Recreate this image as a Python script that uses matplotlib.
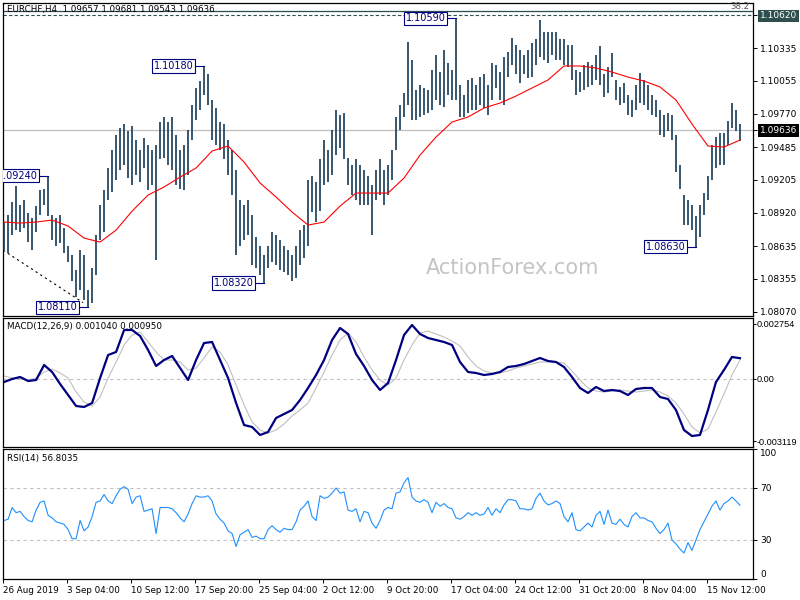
import numpy as np
import matplotlib.pyplot as plt

plt.rcParams['font.family'] = ['DejaVu Sans']

symbol = 'EURCHF,H4'
last_ohlc = [1.09657, 1.09681, 1.09543, 1.09636]

# H4 bars (every other bar of the chart), high / low
highs = [
    1.0884, 1.0890, 1.0901, 1.0915, 1.0899, 1.0903, 1.0892, 1.0888, 1.0898, 1.0912,
    1.0913, 1.0924, 1.0890, 1.0888, 1.0890, 1.0879, 1.0864, 1.0856, 1.0843, 1.0860,
    1.0856, 1.0826, 1.0845, 1.0873, 1.0899, 1.0912, 1.0931, 1.0946, 1.0959, 1.0965,
    1.0968, 1.0962, 1.0967, 1.0955, 1.0946, 1.0956, 1.0950, 1.0946, 1.0950, 1.0970,
    1.0974, 1.0970, 1.0974, 1.0959, 1.0946, 1.0950, 1.0963, 1.0985, 1.0999, 1.1005,
    1.1018, 1.1011, 1.0989, 1.0982, 1.0970, 1.0968, 1.0955, 1.0946, 1.0929, 1.0903,
    1.0899, 1.0903, 1.0890, 1.0871, 1.0864, 1.0856, 1.0864, 1.0876, 1.0873, 1.0869,
    1.0864, 1.0860, 1.0856, 1.0864, 1.0877, 1.0882, 1.0920, 1.0924, 1.0919, 1.0938,
    1.0955, 1.0946, 1.0963, 1.0980, 1.0976, 1.0978, 1.0939, 1.0933, 1.0938, 1.0933,
    1.0929, 1.0924, 1.0916, 1.0929, 1.0938, 1.0929, 1.0933, 1.0946, 1.0974, 1.0985,
    1.0995, 1.1039, 1.1023, 1.0998, 1.1002, 1.0999, 1.0998, 1.1015, 1.1028, 1.1013,
    1.1032, 1.1021, 1.1015, 1.1059, 1.1002, 1.0993, 1.1006, 1.1008, 1.1002, 1.1009,
    1.1011, 1.1002, 1.1021, 1.1019, 1.1013, 1.1026, 1.1030, 1.1042, 1.1036, 1.1032,
    1.1028, 1.1032, 1.1038, 1.1041, 1.1058, 1.1047, 1.1047, 1.1047, 1.1047, 1.1041,
    1.1041, 1.1036, 1.1036, 1.1015, 1.1013, 1.1019, 1.1022, 1.1019, 1.1028, 1.1035,
    1.1011, 1.1017, 1.1029, 1.1006, 1.1000, 1.1004, 1.0993, 1.0989, 1.1002, 1.1012,
    1.1006, 1.1002, 1.0993, 1.0989, 1.0980, 1.0976, 1.0978, 1.0976, 1.0959, 1.0933,
    1.0907, 1.0903, 1.0899, 1.0889, 1.0899, 1.0909, 1.0924, 1.0950, 1.0957, 1.0961,
    1.0961, 1.0971, 1.0986, 1.0980, 1.0968,
]
lows = [
    1.0860, 1.0858, 1.0873, 1.0877, 1.0876, 1.0879, 1.0867, 1.0860, 1.0876, 1.0890,
    1.0899, 1.0889, 1.0869, 1.0864, 1.0866, 1.0858, 1.0850, 1.0834, 1.0820, 1.0826,
    1.0817, 1.0811, 1.0815, 1.0839, 1.0869, 1.0876, 1.0903, 1.0910, 1.0920, 1.0929,
    1.0933, 1.0922, 1.0916, 1.0925, 1.0919, 1.0931, 1.0912, 1.0916, 1.0852, 1.0938,
    1.0939, 1.0933, 1.0929, 1.0916, 1.0913, 1.0912, 1.0925, 1.0955, 1.0972, 1.0980,
    1.0993, 1.0985, 1.0955, 1.0950, 1.0946, 1.0938, 1.0925, 1.0907, 1.0856, 1.0864,
    1.0869, 1.0873, 1.0847, 1.0845, 1.0839, 1.0832, 1.0845, 1.0850, 1.0847, 1.0843,
    1.0841, 1.0839, 1.0834, 1.0836, 1.0847, 1.0853, 1.0864, 1.0893, 1.0884, 1.0894,
    1.0916, 1.0919, 1.0925, 1.0942, 1.0948, 1.0938, 1.0916, 1.0907, 1.0903, 1.0899,
    1.0899, 1.0899, 1.0873, 1.0903, 1.0907, 1.0899, 1.0907, 1.0920, 1.0946, 1.0963,
    1.0974, 1.0985, 1.0972, 1.0972, 1.0974, 1.0976, 1.0978, 1.0980, 1.0989, 1.0985,
    1.0983, 1.0993, 1.0989, 1.0989, 1.0974, 1.0974, 1.0978, 1.0980, 1.0980, 1.0985,
    1.0982, 1.0976, 1.0989, 1.0999, 1.0989, 1.0985, 1.1009, 1.1019, 1.1011, 1.1004,
    1.1011, 1.1008, 1.1009, 1.1019, 1.1026, 1.1023, 1.1021, 1.1028, 1.1023, 1.1023,
    1.1019, 1.1017, 1.1006, 1.0993, 1.0996, 1.0998, 1.1000, 1.1002, 1.1006, 1.1002,
    1.0992, 1.0995, 1.1009, 1.0989, 1.0985, 1.0986, 1.0976, 1.0974, 1.0980, 1.0986,
    1.0985, 1.0980, 1.0976, 1.0974, 1.0959, 1.0957, 1.0962, 1.0955, 1.0927, 1.0913,
    1.0882, 1.0882, 1.0877, 1.0863, 1.0871, 1.0890, 1.0903, 1.0920, 1.0931, 1.0933,
    1.0933, 1.0950, 1.0965, 1.0962, 1.0954,
]

# moving average, one value every 4 bars
ma = [
    1.08842, 1.08833, 1.08842, 1.08859, 1.08808, 1.08704, 1.08670, 1.08773, 1.08936, 1.09074,
    1.09143, 1.09228, 1.09306, 1.09452, 1.09495, 1.09357, 1.09177, 1.09057, 1.08928, 1.08816,
    1.08842, 1.08979, 1.09091, 1.09091, 1.09091, 1.09220, 1.09417, 1.09572, 1.09701, 1.09744,
    1.09821, 1.09864, 1.09924, 1.09993, 1.10062, 1.10182, 1.10182, 1.10165, 1.10130, 1.10087,
    1.10053, 1.10002, 1.09890, 1.09684, 1.09495, 1.09486, 1.09546,
]

# MACD(12,26,9), one value every 2 bars
macd = [
    -0.00015, 0.0, 0.0001, -0.0001, -0.00005, 0.0007, 0.00035, -0.00025, -0.0008, -0.00135,
    -0.0014, -0.0012, 0.00005, 0.0012, 0.00135, 0.00245, 0.00245, 0.00215, 0.00145, 0.00065,
    0.00095, 0.00115, 0.00055, -0.00005, 0.00095, 0.0018, 0.00185, 0.00095, 0.00005, -0.0012,
    -0.0023, -0.0024, -0.0028, -0.00265, -0.00195, -0.00175, -0.00155, -0.00105, -0.00045, 0.0002,
    0.00095, 0.00195, 0.00255, 0.00225, 0.00125, 0.00065, -0.00005, -0.00055, -0.0002, 0.00095,
    0.0022, 0.0027, 0.00225, 0.00205, 0.00195, 0.00185, 0.0017, 0.00085, 0.00035, 0.0003,
    0.0002, 0.00025, 0.00035, 0.0006, 0.00065, 0.00075, 0.0009, 0.00105, 0.0009, 0.00085,
    0.0006, 0.0001, -0.00045, -0.0007, -0.0004, -0.0006, -0.00055, -0.0006, -0.0008, -0.0005,
    -0.00045, -0.00045, -0.0009, -0.001, -0.00155, -0.00255, -0.00285, -0.0028, -0.00155, -0.00015,
    0.00045, 0.0011, 0.00104,
]
signal = [
    0.00015, 0.00005, 0.0, -0.00005, 0.00005, 0.00035, 0.0005, 0.0003, 0.00005, -0.00065,
    -0.00115, -0.00135, -0.0009, 0.00005, 0.00085, 0.0017, 0.0022, 0.00235, 0.00185, 0.00135,
    0.00095, 0.00095, 0.00085, 0.00045, 0.00055, 0.00105, 0.0016, 0.00135, 0.0007, -0.0003,
    -0.0013, -0.00215, -0.00255, -0.0027, -0.00255, -0.00225, -0.00185, -0.00155, -0.0012, -0.00045,
    0.00035, 0.0012, 0.00195, 0.0023, 0.00185, 0.0011, 0.00045, -0.00005, -0.0003, 0.00005,
    0.00095, 0.0017, 0.0023, 0.0024, 0.00225, 0.0021, 0.0019, 0.00165, 0.0011, 0.00065,
    0.0004, 0.0003, 0.0003, 0.0004, 0.00055, 0.00065, 0.00075, 0.00085, 0.00085, 0.00085,
    0.0008, 0.0004, -0.00005, -0.00045, -0.0006, -0.00065, -0.0006, -0.00055, -0.0006, -0.00065,
    -0.0006, -0.00055, -0.00065, -0.00085, -0.0012, -0.00175, -0.0024, -0.0027, -0.0025, -0.00165,
    -0.00075, 0.0002, 0.00095,
]

# RSI(14), one value per bar
rsi = [
    45, 46, 55, 51, 52, 48, 45, 44, 53, 59,
    60, 49, 47, 44, 43, 42, 38, 31, 31, 45,
    37, 40, 48, 59, 60, 65, 60, 58, 64, 69,
    71, 69, 58, 63, 64, 52, 53, 54, 35, 55,
    55, 55, 54, 51, 47, 44, 50, 58, 64, 63,
    63, 64, 60, 50, 46, 43, 37, 35, 25, 34,
    36, 38, 32, 33, 31, 31, 38, 41, 38, 36,
    39, 38, 38, 44, 53, 56, 60, 48, 45, 64,
    62, 63, 66, 70, 66, 67, 53, 52, 54, 44,
    52, 51, 43, 39, 45, 53, 55, 54, 66, 67,
    74, 78, 63, 60, 59, 61, 59, 51, 59, 56,
    58, 55, 54, 47, 46, 48, 51, 49, 51, 49,
    50, 55, 49, 54, 51, 57, 61, 61, 60, 54,
    54, 53, 54, 62, 66, 60, 57, 58, 60, 58,
    48, 44, 51, 38, 37, 40, 43, 40, 49, 52,
    42, 53, 43, 42, 46, 42, 40, 48, 51, 47,
    47, 45, 44, 39, 35, 38, 43, 30, 27, 23,
    20, 28, 22, 30, 38, 44, 50, 56, 60, 53,
    58, 60, 63, 60, 56.8035,
]

price_ticks = [1.10620, 1.10335, 1.10055, 1.09770, 1.09636, 1.09485,
               1.09205, 1.08920, 1.08635, 1.08355, 1.08070]
macd_ticks = [0.002754, 0.0, -0.003119]
macd_tick_labels = ['0.002754', '0.00', '-0.003119']
rsi_ticks = [100, 70, 30, 0]
date_labels = ['26 Aug 2019', '3 Sep 04:00', '10 Sep 12:00', '17 Sep 20:00',
               '25 Sep 04:00', '2 Oct 12:00', '9 Oct 20:00', '17 Oct 04:00',
               '24 Oct 12:00', '31 Oct 20:00', '8 Nov 04:00', '15 Nov 12:00']

# swing high / low labels: price and bar
swing_prices = [1.0924, 1.1018, 1.1059, 1.0811, 1.0832, 1.0863]
swing_bars = [11, 50, 113, 21, 65, 173]

fib_level = 1.10655
level_line = 1.10620
trend_bars = [-0.25, 19.75]
trend_prices = [1.0860, 1.0815]

bar_color = '#163a58'
navy = '#000080'

n = len(highs)
idx = np.arange(n)
xlim = (-0.35, 187.25)

fig = plt.figure(figsize=(8, 6), dpi=100)
ax = fig.add_axes([0.0034, 0.4733, 0.9378, 0.5217])
ax_macd = fig.add_axes([0.0034, 0.255, 0.9378, 0.215])
ax_rsi = fig.add_axes([0.0034, 0.035, 0.9378, 0.2167])

for a in (ax, ax_macd, ax_rsi):
    a.set_xlim(*xlim)
    for s in a.spines.values():
        s.set_linewidth(0.9)
        s.set_color('black')
    a.yaxis.tick_right()
    a.tick_params(axis='y', length=3, width=0.7, labelsize=6.5, pad=2, colors='black')
    a.tick_params(axis='x', length=0, labelbottom=False)

# ---- price panel
ax.set_ylim(1.08035, 1.10723)
ax.vlines(idx, lows, highs, color=bar_color, lw=1.2, zorder=3)
ax.plot(np.arange(0, n, 4), ma, color='red', lw=0.8, zorder=4)
ax.axhline(last_ohlc[3], color='#c0c0c0', lw=0.9, zorder=1)
ax.axhline(fib_level, color='#2f4f4f', lw=0.9, zorder=2)
ax.axhline(level_line, color='#2f4f4f', lw=0.8, ls=(0, (3, 2)), zorder=2)
ax.plot(trend_bars, trend_prices, color='black', lw=0.8, ls=(0, (2, 3)), zorder=2)

ax.text(0.995, fib_level, '38.2', transform=ax.get_yaxis_transform(),
        ha='right', va='bottom', fontsize=6.2, color='#555555')
ax.text(0.006, 0.978, symbol + '  ' + ' '.join(f'{v:.5f}' for v in last_ohlc),
        transform=ax.transAxes, fontsize=6.3, va='center', zorder=6)
ax.text(0.641, 0.553, 'ActionForex.com', transform=fig.transFigure, fontsize=15,
        color='#c4c4c4', ha='center', va='center', zorder=0)

for p, b in zip(swing_prices, swing_bars):
    ax.plot([b - 2.6, b], [p, p], color=navy, lw=0.8, zorder=5)
    ax.text(b - 2.6, p, f'{p:.5f}', ha='right', va='center', fontsize=7, color=navy,
            zorder=6, clip_on=True,
            bbox=dict(boxstyle='square,pad=0.18', fc='white', ec=navy, lw=0.8))

ax.set_yticks(price_ticks)
ax.set_yticklabels([f'{v:.5f}' for v in price_ticks])
for v, lab in zip(price_ticks, ax.get_yticklabels()):
    if v == level_line:
        lab.set_color('white')
        lab.set_bbox(dict(boxstyle='square,pad=0.2', fc='#2f4f4f', ec='none'))
    elif v == last_ohlc[3]:
        lab.set_color('white')
        lab.set_bbox(dict(boxstyle='square,pad=0.2', fc='black', ec='none'))

# ---- MACD panel
ax_macd.set_ylim(-0.0034, 0.00305)
ax_macd.axhline(0, color='#c0c0c0', lw=0.8, ls=(0, (3, 3)))
ax_macd.plot(np.arange(0, n, 2), signal, color='#c0c0c0', lw=0.8)
ax_macd.plot(np.arange(0, n, 2), macd, color=navy, lw=1.6)
ax_macd.set_yticks(macd_ticks)
ax_macd.set_yticklabels(macd_tick_labels, family=['Liberation Sans', 'DejaVu Sans'],
                        fontsize=6.6)
ax_macd.tick_params(axis='y', length=2, pad=0.5)
ax_macd.text(0.006, 0.935, f'MACD(12,26,9) {macd[-1]:.6f} {signal[-1]:.6f}',
             transform=ax_macd.transAxes, fontsize=6.3, va='center')

# ---- RSI panel
ax_rsi.set_ylim(0, 100)
for lvl in (70, 30):
    ax_rsi.axhline(lvl, color='#c0c0c0', lw=0.8, ls=(0, (3, 3)))
ax_rsi.plot(idx, rsi, color='#1e90ff', lw=0.8)
ax_rsi.set_yticks(rsi_ticks)
ax_rsi.set_yticklabels([str(v) for v in rsi_ticks])
labs = ax_rsi.get_yticklabels()
labs[0].set_va('top')
labs[-1].set_va('bottom')
ax_rsi.text(0.006, 0.93, f'RSI(14) {rsi[-1]:.4f}', transform=ax_rsi.transAxes,
            fontsize=6.3, va='center')

ax_rsi.set_xticks(np.arange(len(date_labels)) * 16 - 0.25)
ax_rsi.set_xticklabels(date_labels)
ax_rsi.tick_params(axis='x', length=3, width=0.7, labelbottom=True, labelsize=6.3, pad=2)
for lab in ax_rsi.get_xticklabels():
    lab.set_ha('left')

fig.savefig('out.png', dpi=100, facecolor='white')
